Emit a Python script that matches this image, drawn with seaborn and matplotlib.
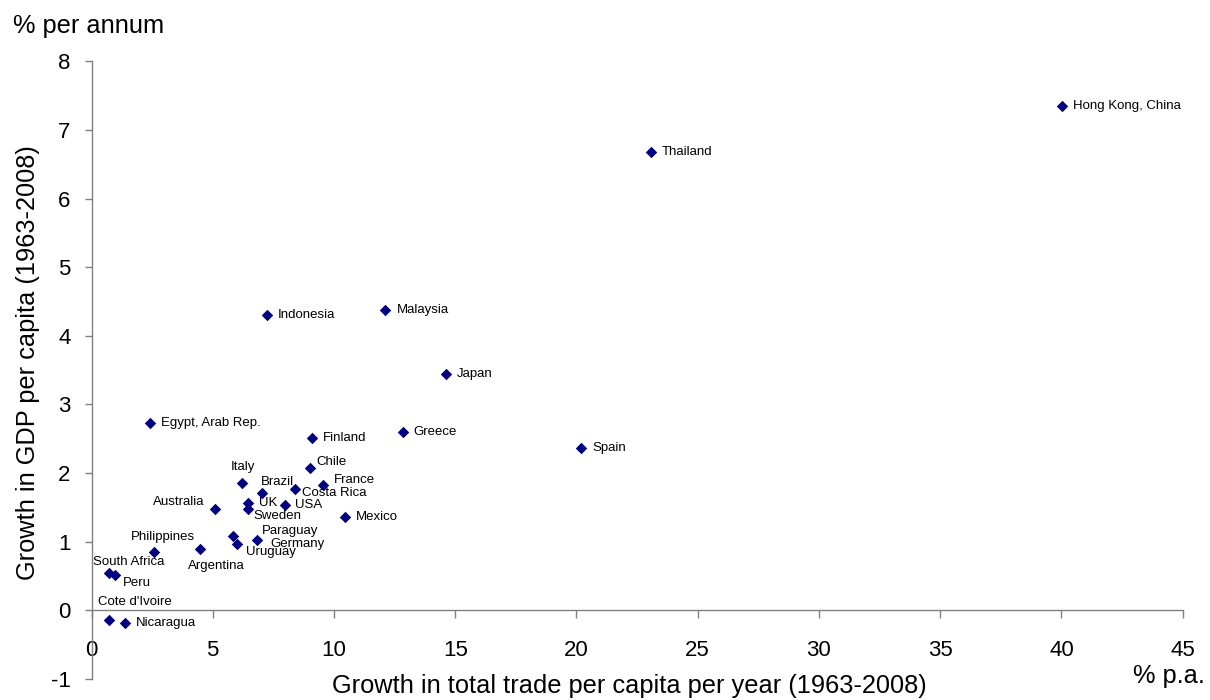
import numpy as np
import pandas as pd
import matplotlib
matplotlib.use("Agg")
import matplotlib.pyplot as plt
import seaborn as sns

# data
countries = [
    "Hong Kong, China", "Thailand", "Spain", "Japan", "Malaysia", "Indonesia",
    "Greece", "Egypt, Arab Rep.", "Finland", "Chile", "Italy", "Brazil",
    "Costa Rica", "France", "UK", "Sweden", "USA", "Australia", "Mexico",
    "Paraguay", "Uruguay", "Germany", "Philippines", "Argentina",
    "South Africa", "Peru", "Cote d'Ivoire", "Nicaragua",
]
trade_growth = [
    40.02, 23.06, 20.20, 14.61, 12.12, 7.23,
    12.84, 2.42, 9.10, 9.01, 6.21, 7.05,
    8.40, 9.56, 6.47, 6.47, 8.00, 5.10, 10.44,
    5.83, 5.99, 6.84, 2.58, 4.48,
    0.74, 0.97, 0.74, 1.39,
]
gdp_growth = [
    7.35, 6.68, 2.36, 3.44, 4.37, 4.30,
    2.60, 2.73, 2.51, 2.08, 1.86, 1.71,
    1.77, 1.82, 1.57, 1.47, 1.54, 1.47, 1.36,
    1.08, 0.96, 1.03, 0.845, 0.894,
    0.55, 0.51, -0.14, -0.19,
]
x_ticks = list(range(0, 50, 5))
y_ticks = list(range(-1, 9))

# label placement: (ha, dx px, dy px), default is right of the marker
label_pos = {
    "Chile": ("left", 6, 6),
    "Italy": ("center", 1, 16),
    "Brazil": ("left", -2, 10.6),
    "Costa Rica": ("left", 7, -4),
    "France": ("left", 11, 5),
    "Sweden": ("left", 5, -7),
    "USA": ("left", 10, 0),
    "Australia": ("right", -10.7, 7),
    "Paraguay": ("left", 29, 5),
    "Germany": ("left", 12.7, -4.3),
    "Uruguay": ("left", 9, -7.7),
    "Philippines": ("center", 9, 15),
    "Argentina": ("center", 16, -17),
    "South Africa": ("center", 19.5, 11),
    "Peru": ("left", 7.7, -7.6),
    "Cote d'Ivoire": ("center", 25, 17.6),
}

df = pd.DataFrame({"country": countries, "trade": trade_growth, "gdp": gdp_growth})

sns.set_style("white")
plt.rcParams["font.family"] = ["Liberation Sans", "DejaVu Sans"]
plt.rcParams["axes.unicode_minus"] = False
plt.rcParams["text.color"] = "black"
plt.rcParams["xtick.labelcolor"] = "black"
plt.rcParams["ytick.labelcolor"] = "black"

W, H = 1210, 700
fig = plt.figure(figsize=(W / 100, H / 100), dpi=100)
ax = fig.add_axes([91.5 / W, 1 - 679 / H, (1182.7 - 91.5) / W, (679 - 61.3) / H])

sns.scatterplot(data=df, x="trade", y="gdp", marker="D", s=34,
                color="#000080", edgecolor="#000080", linewidth=0, ax=ax, zorder=3)

px = 0.72  # pixels -> points
for name, xv, yv in zip(countries, trade_growth, gdp_growth):
    ha, dx, dy = label_pos.get(name, ("left", 11, 0))
    ax.annotate(name, (xv, yv), xytext=(dx * px, dy * px), textcoords="offset points",
                ha=ha, va="center", fontsize=9.5, color="black")

ax.set_xlim(0, 45)
ax.set_ylim(-1, 8)
ax.set_xticks(x_ticks)
ax.set_yticks(y_ticks)
ax.set_xlabel("")
ax.set_ylabel("")

for side in ["top", "right"]:
    ax.spines[side].set_visible(False)
ax.spines["bottom"].set_position(("data", 0))
for side in ["left", "bottom"]:
    ax.spines[side].set_color("#808080")
    ax.spines[side].set_linewidth(1.0)

ax.tick_params(axis="x", bottom=True, direction="out", length=6, width=1,
               color="#808080", labelsize=16, pad=15)
ax.tick_params(axis="y", left=True, direction="out", length=5, width=1,
               color="#808080", labelsize=16, pad=10)

fig.text(13 / W, 1 - 33 / H, "% per annum", fontsize=18.3, ha="left", va="baseline")
fig.text(629.5 / W, 1 - 693 / H, "Growth in total trade per capita per year (1963-2008)",
         fontsize=18.3, ha="center", va="baseline")
fig.text(1133 / W, 1 - 683 / H, "% p.a.", fontsize=18.3, ha="left", va="baseline")
fig.text(28 / W, 1 - 362.5 / H, "Growth in GDP per capita (1963-2008)",
         fontsize=18.3, ha="center", va="center", rotation=90)

fig.savefig("out.png", dpi=100)
